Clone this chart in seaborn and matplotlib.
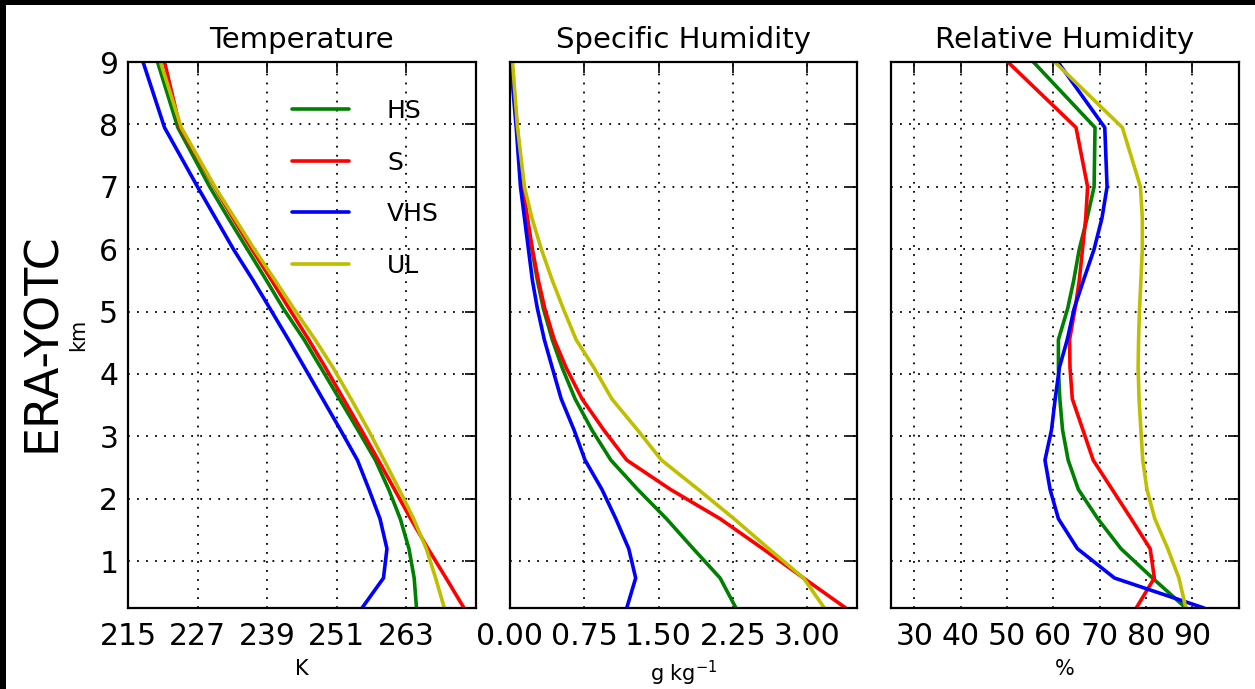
import numpy as np
import pandas as pd
import matplotlib
matplotlib.use("Agg")
import matplotlib.pyplot as plt
from matplotlib.patches import Rectangle
from matplotlib.lines import Line2D
import seaborn as sns

# ---------------- data ----------------
height_km = [0.25, 0.73, 1.2, 1.68, 2.15, 2.62, 3.1, 3.6, 4.1, 4.55, 5.05, 5.5, 6.0, 6.5, 7.0, 7.95, 9.0]
series_names = ["HS", "S", "VHS", "UL"]

temp_HS  = [264.8, 264.4, 263.5, 262.0, 260.0, 257.7, 254.7, 251.5, 248.3, 245.4, 241.8, 238.9, 235.6, 232.3, 229.1, 223.6, 220.1]
temp_S   = [273.0, 269.9, 266.8, 263.8, 261.0, 258.2, 255.3, 252.2, 249.1, 246.2, 242.8, 239.8, 236.4, 233.1, 229.9, 224.0, 221.3]
temp_VHS = [255.4, 259.1, 259.7, 258.5, 256.6, 254.6, 251.7, 248.6, 245.5, 242.7, 239.5, 236.6, 233.2, 230.1, 227.0, 221.3, 217.6]
temp_UL  = [269.6, 268.1, 266.5, 264.3, 261.8, 259.2, 256.5, 253.5, 250.4, 247.3, 243.6, 240.4, 236.8, 233.4, 230.0, 224.2, 220.6]

sh_HS  = [2.28, 2.12, 1.85, 1.58, 1.29, 1.02, 0.83, 0.66, 0.53, 0.43, 0.34, 0.28, 0.225, 0.175, 0.13, 0.074, 0.017]
sh_S   = [3.385, 2.96, 2.55, 2.12, 1.62, 1.18, 0.95, 0.73, 0.57, 0.45, 0.355, 0.29, 0.23, 0.18, 0.135, 0.077, 0.017]
sh_VHS = [1.18, 1.27, 1.20, 1.07, 0.93, 0.76, 0.65, 0.52, 0.43, 0.35, 0.28, 0.23, 0.19, 0.15, 0.11, 0.067, 0.01]
sh_UL  = [3.17, 2.96, 2.61, 2.26, 1.90, 1.53, 1.29, 1.03, 0.85, 0.67, 0.54, 0.43, 0.32, 0.225, 0.15, 0.08, 0.03]

rh_HS  = [88.6, 81.4, 74.6, 69.6, 65.4, 63.2, 62.0, 61.4, 61.1, 61.1, 63.1, 64.4, 65.6, 67.3, 68.8, 69.0, 55.7]
rh_S   = [77.9, 81.8, 80.9, 76.8, 72.7, 68.6, 66.4, 64.1, 63.6, 63.5, 64.7, 65.6, 66.3, 67.0, 67.4, 64.9, 50.2]
rh_VHS = [92.5, 73.2, 65.2, 61.1, 59.3, 58.2, 59.6, 60.4, 61.3, 63.0, 64.5, 66.5, 68.8, 70.5, 71.6, 71.1, 61.0]
rh_UL  = [88.6, 87.1, 84.7, 81.9, 80.2, 79.3, 78.9, 78.5, 78.3, 78.4, 78.6, 78.9, 79.2, 79.2, 78.8, 74.9, 60.3]

panel_titles = ["Temperature", "Specific Humidity", "Relative Humidity"]
panel_units = ["K", r"g kg$^{-1}$", "%"]
temp_ticks = [215, 227, 239, 251, 263]
sh_ticks = [0.00, 0.75, 1.50, 2.25, 3.00]
rh_ticks = [30, 40, 50, 60, 70, 80, 90]
y_ticks = [1, 2, 3, 4, 5, 6, 7, 8, 9]

# ---------------- long-form table ----------------
rows = []
for name, t, q, r in zip(series_names,
                         [temp_HS, temp_S, temp_VHS, temp_UL],
                         [sh_HS, sh_S, sh_VHS, sh_UL],
                         [rh_HS, rh_S, rh_VHS, rh_UL]):
    for z, tv, qv, rv in zip(height_km, t, q, r):
        rows.append({"series": name, "z": z, "T": tv, "q": qv, "RH": rv})
df = pd.DataFrame(rows)

palette = {"HS": "#008000", "S": "#ff0000", "VHS": "#0000ff", "UL": "#bfbf00"}

sns.set_theme(style="white")
plt.rcParams["font.family"] = ["DejaVu Sans"]
plt.rcParams["mathtext.fontset"] = "dejavusans"
plt.rcParams["text.color"] = "black"
plt.rcParams["axes.labelcolor"] = "black"
plt.rcParams["xtick.color"] = "black"
plt.rcParams["ytick.color"] = "black"

fig, axes = plt.subplots(1, 3, figsize=(12.55, 6.89), dpi=100)
fig.patch.set_facecolor("white")
fig.subplots_adjust(left=0.102, right=0.987, bottom=0.1176, top=0.910, wspace=0.0978)

cols = ["T", "q", "RH"]
xlims = [(215, 275), (0, 3.5), (25, 100)]
xticks = [temp_ticks, sh_ticks, rh_ticks]

for i, ax in enumerate(axes):
    sns.lineplot(data=df, x=cols[i], y="z", hue="series", hue_order=series_names,
                 palette=palette, orient="y", sort=False, estimator=None,
                 linewidth=2.6, legend=False, ax=ax)
    ax.set_xlim(*xlims[i])
    ax.set_ylim(0.25, 9)
    ax.set_xticks(xticks[i])
    if i == 1:
        ax.set_xticklabels([f"{v:.2f}" for v in sh_ticks])
    ax.set_yticks(y_ticks)
    if i > 0:
        ax.set_yticklabels([])
    ax.grid(True, color="black", linestyle=(0, (1, 4)), linewidth=1.3)
    ax.tick_params(axis="both", direction="in", length=8, width=1.2,
                   top=True, right=True, labelsize=21.5, colors="black")
    ax.tick_params(axis="x", pad=10)
    ax.tick_params(axis="y", pad=7)
    for sp in ax.spines.values():
        sp.set_visible(True)
        sp.set_color("black")
        sp.set_linewidth(1.6)
    ax.set_title(panel_titles[i], fontsize=21, pad=10, color="black")
    ax.set_xlabel(panel_units[i], fontsize=15, labelpad=6)
    ax.set_ylabel("")

axes[0].set_ylabel("km", fontsize=15, labelpad=8)
fig.text(43 / 1255, 1 - 342 / 689, "ERA-YOTC", rotation=90, fontsize=33,
         ha="center", va="center", color="black")

handles = [Line2D([], [], color=palette[n], linewidth=2.6) for n in series_names]
axes[0].legend(handles, series_names, loc="upper left", bbox_to_anchor=(0.473, 0.932),
               frameon=False, fontsize=18, handlelength=2.28, handletextpad=1.5,
               labelspacing=1.1, borderpad=0, borderaxespad=0)

# black frame strips of the reference screenshot (left and top edges)
fig.add_artist(Rectangle((0, 0), 6 / 1255, 1, transform=fig.transFigure,
                         facecolor="black", edgecolor="none"))
fig.add_artist(Rectangle((0, 1 - 5 / 689), 1, 5 / 689, transform=fig.transFigure,
                         facecolor="black", edgecolor="none"))

fig.savefig("out.png", dpi=100, facecolor="white")
